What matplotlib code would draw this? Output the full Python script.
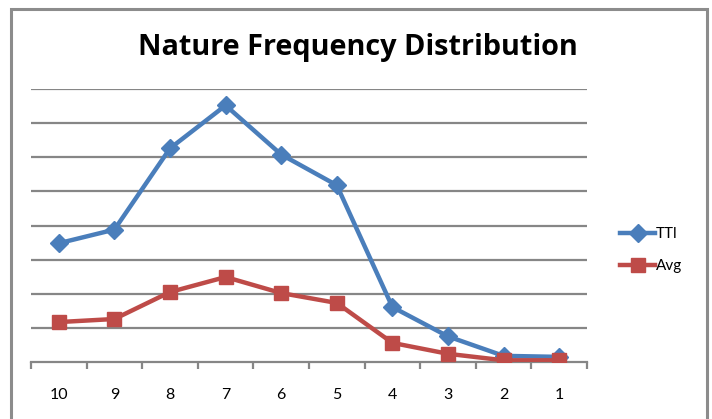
import matplotlib.pyplot as plt
import matplotlib.patches as mpatches
import numpy as np

categories = ['10', '9', '8', '7', '6', '5', '4', '3', '2', '1']
ttl = [3.48, 3.88, 6.26, 7.52, 6.08, 5.18, 1.61, 0.75, 0.18, 0.15]
avg = [1.17, 1.26, 2.05, 2.49, 2.02, 1.73, 0.56, 0.24, 0.05, 0.05]

plt.rcParams['font.family'] = ['Lato', 'DejaVu Sans']

fig = plt.figure(figsize=(7.12, 4.19), dpi=100)
ax = fig.add_axes([31 / 712, 1 - 362 / 419, 556 / 712, 273 / 419])

# outer chart border
fig.patches.append(mpatches.Rectangle((11 / 712, -0.1), 696 / 712, 1.1 - 9 / 419,
                                      transform=fig.transFigure, fill=False,
                                      edgecolor='#8c8c8c', linewidth=2.2))

x = np.arange(len(categories))
blue = '#4A7EBB'
red = '#BE4B48'
ax.plot(x, ttl, color=blue, linewidth=3.2, marker='D', markersize=9, label='TTl',
        zorder=3)
ax.plot(x, avg, color=red, linewidth=3.2, marker='s', markersize=10, label='Avg',
        zorder=4)

ax.set_xlim(-0.5, len(categories) - 0.5)
ax.set_ylim(0, 8)
ax.set_yticks(np.arange(1, 9))
ax.yaxis.grid(True, color='#868686', linewidth=1.6)
ax.set_axisbelow(True)
ax.tick_params(axis='y', left=False, labelleft=False)
ax.set_xticks(x)
ax.set_xticklabels(categories, fontsize=11.5)
ax.set_xticks(np.arange(-0.5, len(categories)), minor=True)
ax.tick_params(axis='x', which='major', length=0, pad=19)
ax.tick_params(axis='x', which='minor', length=5, width=1.6, color='#868686')
for side in ['top', 'right', 'left']:
    ax.spines[side].set_visible(False)
ax.spines['bottom'].set_color('#868686')
ax.spines['bottom'].set_linewidth(1.6)

fig.text(358 / 712, 1 - 48 / 419, 'Nature Frequency Distribution', ha='center',
         va='center', fontsize=20.8, fontweight='bold', family=['Open Sans', 'DejaVu Sans'])

ax.legend(loc='center left', bbox_to_anchor=(1.035, 0.41), frameon=False,
          fontsize=11, handlelength=2.3, handletextpad=0.05, labelspacing=1.2)

fig.savefig('out.png', dpi=100)
